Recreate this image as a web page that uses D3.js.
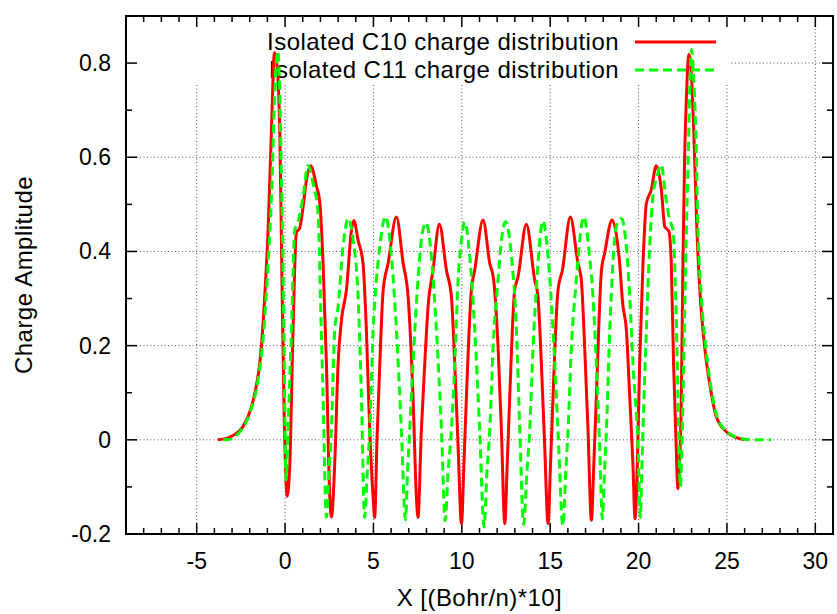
<!DOCTYPE html>
<html>
<head>
<meta charset="utf-8">
<script src="https://cdn.jsdelivr.net/npm/d3@7"></script>
<style>
  html, body { margin: 0; padding: 0; background: #fff; }
  svg { display: block; }
  text { font-family: "Liberation Sans", Arial, sans-serif; fill: #000; }
</style>
</head>
<body>
<svg id="chart" width="837" height="614"></svg>
<script>
// ---------------- data ----------------
const seriesNames = ["Isolated C10 charge distribution", "Isolated C11 charge distribution"];

const c10X = [-3.8,-3.3,-2.9,-2.4,-1.9,-1.6,-1.43,-1.15,-0.96,-0.77,-0.6,-0.5,-0.3,-0.18,-0.05,0.05,0.11,0.17,0.27,0.45,0.64,0.83,1.02,1.21,1.45,1.78,1.96,2.15,2.34,2.53,2.62,2.81,3.0,3.19,3.47,3.76,3.89,4.13,4.41,4.6,4.79,4.98,5.07,5.2,5.36,5.55,5.83,6.3,6.68,6.96,7.24,7.43,7.52,7.71,7.9,8.09,8.37,8.73,9.13,9.41,9.6,9.79,9.98,10.12,10.26,10.54,10.73,11.2,11.58,11.8,12.05,12.24,12.43,12.57,12.71,12.99,13.18,13.65,14.12,14.31,14.5,14.69,14.88,15.02,15.16,15.44,15.69,16.14,16.57,16.76,16.95,17.14,17.33,17.47,17.61,17.9,18.08,18.5,18.93,19.1,19.31,19.5,19.68,19.8,19.93,20.06,20.25,20.44,20.72,21.0,21.29,21.48,21.72,21.85,21.98,22.1,22.23,22.32,22.42,22.51,22.6,22.7,22.85,22.98,23.12,23.3,23.49,23.74,24.02,24.4,24.97,25.5,26.0];
const c10Y = [0,0.003,0.01,0.027,0.07,0.12,0.163,0.305,0.446,0.659,0.822,0.81,0.66,0.35,0.05,-0.08,-0.12,-0.11,-0.05,0.233,0.44,0.45,0.495,0.552,0.582,0.538,0.506,0.375,0.162,-0.122,-0.164,-0.05,0.162,0.254,0.318,0.446,0.466,0.424,0.375,0.233,0.02,-0.122,-0.165,0,0.162,0.318,0.375,0.473,0.375,0.304,0.091,-0.122,-0.165,0.02,0.16,0.283,0.36,0.458,0.36,0.304,0.162,-0.015,-0.178,-0.05,0.091,0.318,0.36,0.467,0.375,0.34,0.197,0.02,-0.178,-0.05,0.091,0.318,0.346,0.458,0.34,0.304,0.162,-0.015,-0.178,-0.05,0.091,0.318,0.36,0.473,0.375,0.34,0.197,0.02,-0.171,-0.05,0.091,0.36,0.396,0.467,0.375,0.29,0.233,0.091,-0.051,-0.168,-0.05,0.162,0.375,0.502,0.531,0.582,0.531,0.453,0.442,0.375,0.162,0.02,-0.104,-0.05,0.091,0.375,0.588,0.72,0.818,0.78,0.659,0.446,0.304,0.197,0.12,0.049,0.017,0.005,0];

const c11X = [-3.5,-3.31,-2.56,-2.0,-1.53,-1.2,-0.96,-0.77,-0.6,-0.42,-0.33,-0.26,-0.15,-0.07,0.0,0.05,0.1,0.17,0.36,0.55,0.74,1.02,1.3,1.58,1.87,2.0,2.15,2.34,2.48,2.62,2.81,3.0,3.28,3.57,3.85,4.13,4.32,4.5,4.65,4.79,4.98,5.17,5.36,5.68,6.02,6.3,6.58,6.81,6.93,7.05,7.24,7.52,7.71,7.96,8.28,8.56,8.85,9.06,9.22,9.41,9.6,9.79,9.98,10.16,10.45,10.73,11.01,11.26,11.42,11.58,11.77,12.05,12.24,12.48,12.81,13.09,13.28,13.5,13.68,13.84,14.03,14.25,14.41,14.59,14.88,15.16,15.44,15.72,15.88,16.01,16.2,16.48,16.67,16.9,17.23,17.42,17.61,17.8,17.95,18.07,18.18,18.37,18.55,18.74,19.03,19.31,19.5,19.68,19.97,20.1,20.18,20.25,20.44,20.63,20.81,21.04,21.29,21.53,21.76,21.95,22.1,22.23,22.36,22.44,22.51,22.66,22.8,22.9,23.0,23.1,23.23,23.36,23.55,23.8,24.06,24.44,25.0,25.76,26.5,27.5];
const c11Y = [0,0,0.017,0.056,0.127,0.233,0.375,0.517,0.72,0.825,0.78,0.659,0.446,0.233,0.02,-0.085,-0.06,0.02,0.233,0.446,0.463,0.517,0.582,0.545,0.481,0.304,0.091,-0.165,-0.07,0.02,0.233,0.283,0.41,0.47,0.424,0.304,0.091,-0.165,-0.07,0.02,0.233,0.34,0.41,0.474,0.389,0.233,0.02,-0.17,-0.07,0.02,0.162,0.34,0.424,0.461,0.389,0.233,0.02,-0.172,-0.07,0.02,0.162,0.34,0.424,0.463,0.389,0.233,0.02,-0.185,-0.07,0.02,0.197,0.34,0.424,0.463,0.389,0.233,0.02,-0.18,-0.07,0.02,0.197,0.34,0.424,0.465,0.389,0.233,0.02,-0.182,-0.07,0.02,0.197,0.34,0.424,0.473,0.389,0.304,0.162,-0.015,-0.168,-0.07,0.02,0.233,0.375,0.453,0.47,0.41,0.304,0.162,-0.015,-0.165,-0.07,0.02,0.233,0.41,0.517,0.559,0.584,0.517,0.467,0.446,0.304,0.091,-0.1,-0.03,0.091,0.375,0.588,0.75,0.829,0.78,0.659,0.446,0.304,0.197,0.12,0.049,0.017,0.003,0,0];

const xTicks = [-5, 0, 5, 10, 15, 20, 25, 30];
const yTicks = [-0.2, 0, 0.2, 0.4, 0.6, 0.8];
const yTickLabels = ["-0.2", "0", "0.2", "0.4", "0.6", "0.8"];
const xMinorTicks = d3.range(-9, 32, 1);
const yMinorTicks = d3.range(-2, 10, 1).map(d => d / 10);

// ---------------- layout ----------------
const L = 126, R = 833, T = 16, B = 534;
const svg = d3.select("#chart");
const x = d3.scaleLinear().domain([-9, 31]).range([L, R]);
const y = d3.scaleLinear().domain([-0.2, 0.9]).range([B, T]);
const FS = 23, FST = 24, LS = "0.45px";

// grid
const grid = svg.append("g").attr("stroke", "#555").attr("stroke-width", 1).attr("stroke-dasharray", "1,2.5");
xTicks.forEach(t => grid.append("line").attr("x1", x(t)).attr("x2", x(t)).attr("y1", B).attr("y2", T));
yTicks.filter(t => t > -0.2).forEach(t => grid.append("line").attr("x1", L).attr("x2", R).attr("y1", y(t)).attr("y2", y(t)));

// opaque key area
svg.append("rect").attr("x", L).attr("y", T).attr("width", 731 - L).attr("height", 85 - T).attr("fill", "#fff");

// ticks (all four sides, inward)
const tk = svg.append("g").attr("stroke", "#000").attr("stroke-width", 1.5);
const isMajorX = v => xTicks.includes(v);
xMinorTicks.forEach(v => {
  const len = isMajorX(v) ? 11 : 6;
  tk.append("line").attr("x1", x(v)).attr("x2", x(v)).attr("y1", B).attr("y2", B - len);
  tk.append("line").attr("x1", x(v)).attr("x2", x(v)).attr("y1", T).attr("y2", T + len);
});
yMinorTicks.forEach(v => {
  const major = yTicks.some(t => Math.abs(t - v) < 1e-9);
  const len = major ? 11 : 6;
  tk.append("line").attr("x1", L).attr("x2", L + len).attr("y1", y(v)).attr("y2", y(v));
  tk.append("line").attr("x1", R).attr("x2", R - len).attr("y1", y(v)).attr("y2", y(v));
});

// tick labels
svg.append("g").selectAll("text").data(xTicks).join("text")
  .attr("x", d => x(d)).attr("y", 569).attr("text-anchor", "middle")
  .attr("font-size", FS).text(d => d);
svg.append("g").selectAll("text").data(yTicks).join("text")
  .attr("x", 111).attr("y", d => y(d) + 8).attr("text-anchor", "end")
  .attr("font-size", FS).text((d, i) => yTickLabels[i]);

// axis titles
svg.append("text").attr("x", (L + R) / 2).attr("y", 606).attr("text-anchor", "middle")
  .attr("font-size", FST).attr("letter-spacing", LS).text("X [(Bohr/n)*10]");
svg.append("text").attr("transform", `translate(32,${(T + B) / 2}) rotate(-90)`)
  .attr("text-anchor", "middle").attr("font-size", FST).attr("letter-spacing", LS).text("Charge Amplitude");

// legend text
const legY = [50, 78];
const sampleY = [42, 70];
seriesNames.forEach((n, i) => {
  svg.append("text").attr("x", 619).attr("y", legY[i]).attr("text-anchor", "end")
    .attr("font-size", FST).attr("letter-spacing", LS).text(n);
});

// curves
svg.append("clipPath").attr("id", "clip").append("rect").attr("x", L).attr("y", T).attr("width", R - L).attr("height", B - T);
const line = d3.line().x(d => x(d[0])).y(d => y(d[1])).curve(d3.curveMonotoneX);
const d10 = c10X.map((v, i) => [v, c10Y[i]]);
const d11 = c11X.map((v, i) => [v, c11Y[i]]);
const curves = svg.append("g").attr("clip-path", "url(#clip)");
curves.append("path").attr("d", line(d10)).attr("fill", "none").attr("stroke", "#ff0000").attr("stroke-width", 3).attr("stroke-linejoin", "round");
curves.append("path").attr("d", line(d11)).attr("fill", "none").attr("stroke", "#00ff00").attr("stroke-width", 3).attr("stroke-dasharray", "9,5");

// legend samples
svg.append("line").attr("x1", 635).attr("x2", 716).attr("y1", sampleY[0]).attr("y2", sampleY[0]).attr("stroke", "#ff0000").attr("stroke-width", 3);
svg.append("line").attr("x1", 635).attr("x2", 716).attr("y1", sampleY[1]).attr("y2", sampleY[1]).attr("stroke", "#00ff00").attr("stroke-width", 3).attr("stroke-dasharray", "9,5");

// border
svg.append("rect").attr("x", L).attr("y", T).attr("width", R - L).attr("height", B - T)
  .attr("fill", "none").attr("stroke", "#000").attr("stroke-width", 2);
</script>
</body>
</html>
